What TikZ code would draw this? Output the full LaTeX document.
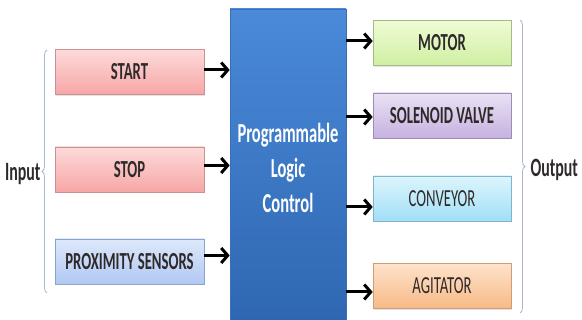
\documentclass[tikz,border=0pt]{standalone}
\usepackage{fontspec}
\setmainfont{Carlito}[FakeStretch=0.6]
\usetikzlibrary{arrows.meta,shadows,decorations.pathreplacing}

\definecolor{txt}{HTML}{2E2A2A}
\definecolor{bracec}{HTML}{A9B6D2}
\definecolor{pinkT}{HTML}{FDDADA}\definecolor{pinkB}{HTML}{F7A6A6}\definecolor{pinkD}{HTML}{C99292}
\definecolor{blueT}{HTML}{DDE8FB}\definecolor{blueB}{HTML}{B0C8F2}\definecolor{blueD}{HTML}{8CA4CC}
\definecolor{grnT}{HTML}{F0FBD6}\definecolor{grnB}{HTML}{CFEFA2}\definecolor{grnD}{HTML}{A4BC88}
\definecolor{vioT}{HTML}{EAE1F4}\definecolor{vioB}{HTML}{C6B2E0}\definecolor{vioD}{HTML}{9C8CB8}
\definecolor{cyaT}{HTML}{DCF5FD}\definecolor{cyaB}{HTML}{A2DFF6}\definecolor{cyaD}{HTML}{80B4CC}
\definecolor{orgT}{HTML}{FDE2CB}\definecolor{orgB}{HTML}{F8BA86}\definecolor{orgD}{HTML}{D09C78}
\definecolor{plcT}{HTML}{4A8AD8}\definecolor{plcB}{HTML}{2F67B2}\definecolor{plcD}{HTML}{3A70BA}

\tikzset{
  unitbox/.style n args={3}{rectangle, draw=#3, line width=0.6pt,
    top color=#1, bottom color=#2, text=txt,
    drop shadow={opacity=0.22, shadow xshift=1pt, shadow yshift=-1.5pt},
    font=\bfseries\fontsize{24.5}{28}\selectfont},
  inbox/.style={minimum width=149pt, minimum height=45pt},
  outbox/.style={minimum width=138pt, minimum height=45pt},
  lightlabel/.style={font=\fontsize{24.5}{28}\selectfont},
  plcbox/.style={rectangle, draw=plcD, line width=0.6pt, top color=plcT, bottom color=plcB,
    minimum width=116pt, minimum height=311pt},
  plctext/.style={text=white, align=center, font=\bfseries\fontsize{27.5}{35}\selectfont},
  conn/.style={line width=3pt, -{Straight Barb[length=6.5pt,width=15pt]}},
  bracket/.style={draw=bracec, line width=0.8pt, decorate,
    decoration={brace, amplitude=5pt, aspect=0.5}},
  sidelabel/.style={text=txt, font=\bfseries\fontsize{26.5}{30}\selectfont}
}

\begin{document}
\begin{tikzpicture}[x=1pt,y=-1pt]
\useasboundingbox (0,0) rectangle (582,320);

% central controller
\node[plcbox] (plc) at (288,164.5) {};
\node[plctext] (plclabel) at ([yshift=-3pt]plc.center) {Programmable\\Logic\\Control};

% inputs
\node[unitbox={pinkT}{pinkB}{pinkD}, inbox] (start) at (129.5,72) {START};
\node[unitbox={pinkT}{pinkB}{pinkD}, inbox] (stop) at (129.5,169.5) {STOP};
\node[unitbox={blueT}{blueB}{blueD}, inbox] (prox) at (129.5,261.5) {PROXIMITY SENSORS};

% outputs
\node[unitbox={grnT}{grnB}{grnD}, outbox] (motor) at (442,43) {MOTOR};
\node[unitbox={vioT}{vioB}{vioD}, outbox] (valve) at (442,115.5) {SOLENOID VALVE};
\node[unitbox={cyaT}{cyaB}{cyaD}, outbox, lightlabel] (conv) at (442,198.5) {CONVEYOR};
\node[unitbox={orgT}{orgB}{orgD}, outbox, lightlabel] (agit) at (442,286) {AGITATOR};

% signal flow
\draw[conn] ([yshift=2pt]start.east) -- ([yshift=2pt]start.east -| plc.west);
\draw[conn] ([yshift=4pt]stop.east) -- ([yshift=4pt]stop.east -| plc.west);
\draw[conn] ([yshift=6pt]prox.east) -- ([yshift=6pt]prox.east -| plc.west);

\draw[conn] ([yshift=2pt]motor.west -| plc.east) -- ([yshift=2pt]motor.west);
\draw[conn] ([yshift=-1.5pt]valve.west -| plc.east) -- ([yshift=-1.5pt]valve.west);
\draw[conn] ([yshift=-8.5pt]conv.west -| plc.east) -- ([yshift=-8.5pt]conv.west);
\draw[conn] ([yshift=-6pt]agit.west -| plc.east) -- ([yshift=-6pt]agit.west);

% grouping brackets
\coordinate (inLo) at (47,293);
\coordinate (inHi) at (47,50);
\coordinate (outHi) at (520,20);
\coordinate (outLo) at (520,313);
\draw[bracket] (inLo) -- (inHi);
\draw[bracket] (outHi) -- (outLo);

\node[sidelabel, anchor=east] (inlab) at (44,174) {Input};
\node[sidelabel, anchor=west] (outlab) at (527,170) {Output};
\end{tikzpicture}
\end{document}
